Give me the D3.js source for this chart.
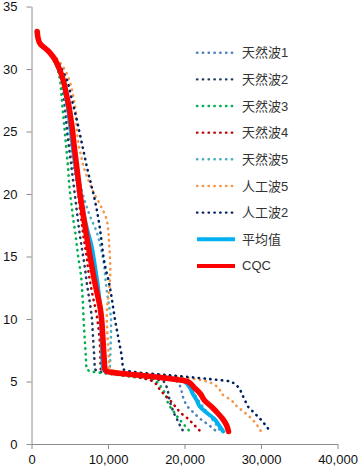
<!DOCTYPE html>
<html>
<head>
<meta charset="utf-8">
<script src="https://cdn.jsdelivr.net/npm/d3@7"></script>
<style>
  body { margin: 0; background: #fff; }
  text { font-family: "Liberation Sans", Arial, "Noto Sans CJK SC", sans-serif; }
</style>
</head>
<body>
<div id="chart"></div>
<script>
// heights (y values) shared by every series
const heights = [33,32.5,32,31.5,31,30,29,28,27,26,25,24,23,22,21,20,19,18,17,16,15,14,13,12,11,10,9,8,7,6,5.8,5.5,5.2,5,4.5,4,3.5,3,2.5,2,1.5,1]

const wave1 = [650,800,1100,2000,2750,3500,4050,4350,4600,4800,5000,5200,5400,5650,5900,6200,6500,6800,7100,7450,7800,8100,8400,8700,8900,9000,9100,9200,9300,9400,9900,14000,18000,19000,19500,19700,19950,20400,21200,22100,23200,24200]
const wave2 = [700,850,1150,2050,2800,3550,3950,4150,4350,4500,4650,4850,5050,5250,5450,5650,5850,6050,6250,6500,6750,7000,7200,7450,7700,7900,8000,8100,8200,8300,8800,12500,16000,17300,17700,17900,18050,18300,18600,19000,19400,19850]
const wave3 = [700,850,1150,2000,2700,3400,3750,3900,4050,4200,4350,4500,4650,4800,4900,5050,5250,5450,5700,5900,6100,6350,6550,6650,6750,6800,6900,7000,7100,7200,7900,11500,15000,16300,17000,17500,17700,18100,18700,19300,20000,20700]
const wave4 = [700,850,1150,2050,2800,3650,4100,4350,4600,4800,5000,5200,5400,5650,5900,6100,6300,6500,6700,6950,7200,7400,7650,7950,8300,8600,8800,8950,9000,9050,9500,12500,15000,15900,16600,17300,18100,18800,19500,20500,21300,22100]
const wave5 = [650,800,1100,2000,2750,3450,4000,4300,4550,4800,5000,5250,5550,5900,6300,6700,7200,7800,8500,8950,9300,9550,9700,9900,10150,10400,10400,10350,10300,10250,10700,15000,19000,20300,20800,21300,21800,22400,23000,23600,24200,24700]
const art5 = [700,900,1250,2200,3050,4300,5000,5400,5700,5850,5950,6150,6500,6900,7500,8200,9100,9800,10050,10150,10250,10300,10250,10100,9900,9850,9900,10000,10100,10200,11000,17000,21300,22900,24400,24900,26100,26900,27900,28800,29500,30000]
const art2 = [700,900,1200,2150,2950,3950,4700,5100,5500,5900,6250,6600,6950,7300,7700,8100,8450,8750,9000,9200,9400,9700,10100,10400,10650,10900,11200,11500,11800,12000,13000,18000,23200,25950,27100,27500,27900,28300,29100,29900,30600,31200]
const avg = [650,800,1100,2050,2750,3550,4150,4450,4750,4950,5150,5350,5550,5800,6050,6300,6600,6950,7350,7800,8100,8350,8600,8800,8950,9050,9150,9200,9250,9350,9700,13800,18300,20000,20700,21100,21600,22000,22900,23900,24500,25050]
const cqc = [750,850,1150,2100,2800,3650,4200,4550,4900,5150,5380,5550,5750,5950,6150,6340,6600,6850,7100,7380,7650,7950,8250,8600,8950,9170,9280,9380,9480,9600,9900,14100,18400,20400,21300,22100,22600,23500,24300,25000,25500,25750]

const seriesNames = ["天然波1","天然波2","天然波3","天然波4","天然波5","人工波5","人工波2","平均值","CQC"]
const seriesValues = [wave1, wave2, wave3, wave4, wave5, art5, art2, avg, cqc]
const seriesColors = ["#4f81bd","#1f3864","#00b050","#c00000","#4bacc6","#f79646","#002060","#00b0f0","#ff0000"]
const dotted = [true,true,true,true,true,true,true,false,false]

const xTicks = [0,10000,20000,30000,40000]
const yTicks = [0,5,10,15,20,25,30,35]

const W = 360, H = 475
const margin = {top: 6.5, right: 22.5, bottom: 31, left: 31.5}

const svg = d3.select("#chart")
  .append("svg")
    .attr("width", W)
    .attr("height", H)

const x = d3.scaleLinear()
  .domain([0, 40000])
  .range([margin.left, W - margin.right])

const y = d3.scaleLinear()
  .domain([0, 35])
  .range([H - margin.bottom, margin.top])

// axes
svg.append("g")
  .attr("transform", `translate(0,${H - margin.bottom})`)
  .call(d3.axisBottom(x).tickValues(xTicks).tickFormat(d3.format(",")).tickSize(5).tickSizeOuter(0).tickPadding(6))

svg.append("g")
  .attr("transform", `translate(${margin.left},0)`)
  .call(d3.axisLeft(y).tickValues(yTicks).tickSize(5).tickSizeOuter(0).tickPadding(9))

svg.selectAll(".domain, .tick line").attr("stroke", "#8c8c8c")
svg.selectAll(".tick text")
  .style("font-size", "13px")
  .attr("fill", "#111")

// lines
const line = d3.line()
  .x(d => x(d[0]))
  .y(d => y(d[1]))
  .curve(d3.curveMonotoneY)

seriesNames.forEach((name, i) => {
  const pts = seriesValues[i].map((v, j) => [v, heights[j]])
  svg.append("path")
    .datum(pts)
    .attr("fill", "none")
    .attr("stroke", seriesColors[i])
    .attr("stroke-width", dotted[i] ? 2.6 : (i == 8 ? 5.5 : 4))
    .attr("stroke-linecap", "round")
    .attr("stroke-linejoin", "round")
    .attr("stroke-dasharray", dotted[i] ? "0.4 5.4" : null)
    .attr("d", line)
})

// legend
const legend = svg.append("g")
  .selectAll("g")
  .data(seriesNames)
  .join("g")
    .attr("transform", (d, i) => `translate(197,${52.7 + i * 26.65})`)

legend.append("line")
  .attr("x1", 0)
  .attr("x2", 38)
  .attr("stroke", (d, i) => seriesColors[i])
  .attr("stroke-width", (d, i) => dotted[i] ? 2.4 : 4)
  .attr("stroke-linecap", (d, i) => dotted[i] ? "round" : "butt")
  .attr("stroke-dasharray", (d, i) => dotted[i] ? "0.4 5.4" : null)

legend.append("text")
  .attr("x", 45)
  .attr("dy", "0.35em")
  .style("font-size", "13px")
  .attr("fill", "#333")
  .text(d => d)
</script>
</body>
</html>
